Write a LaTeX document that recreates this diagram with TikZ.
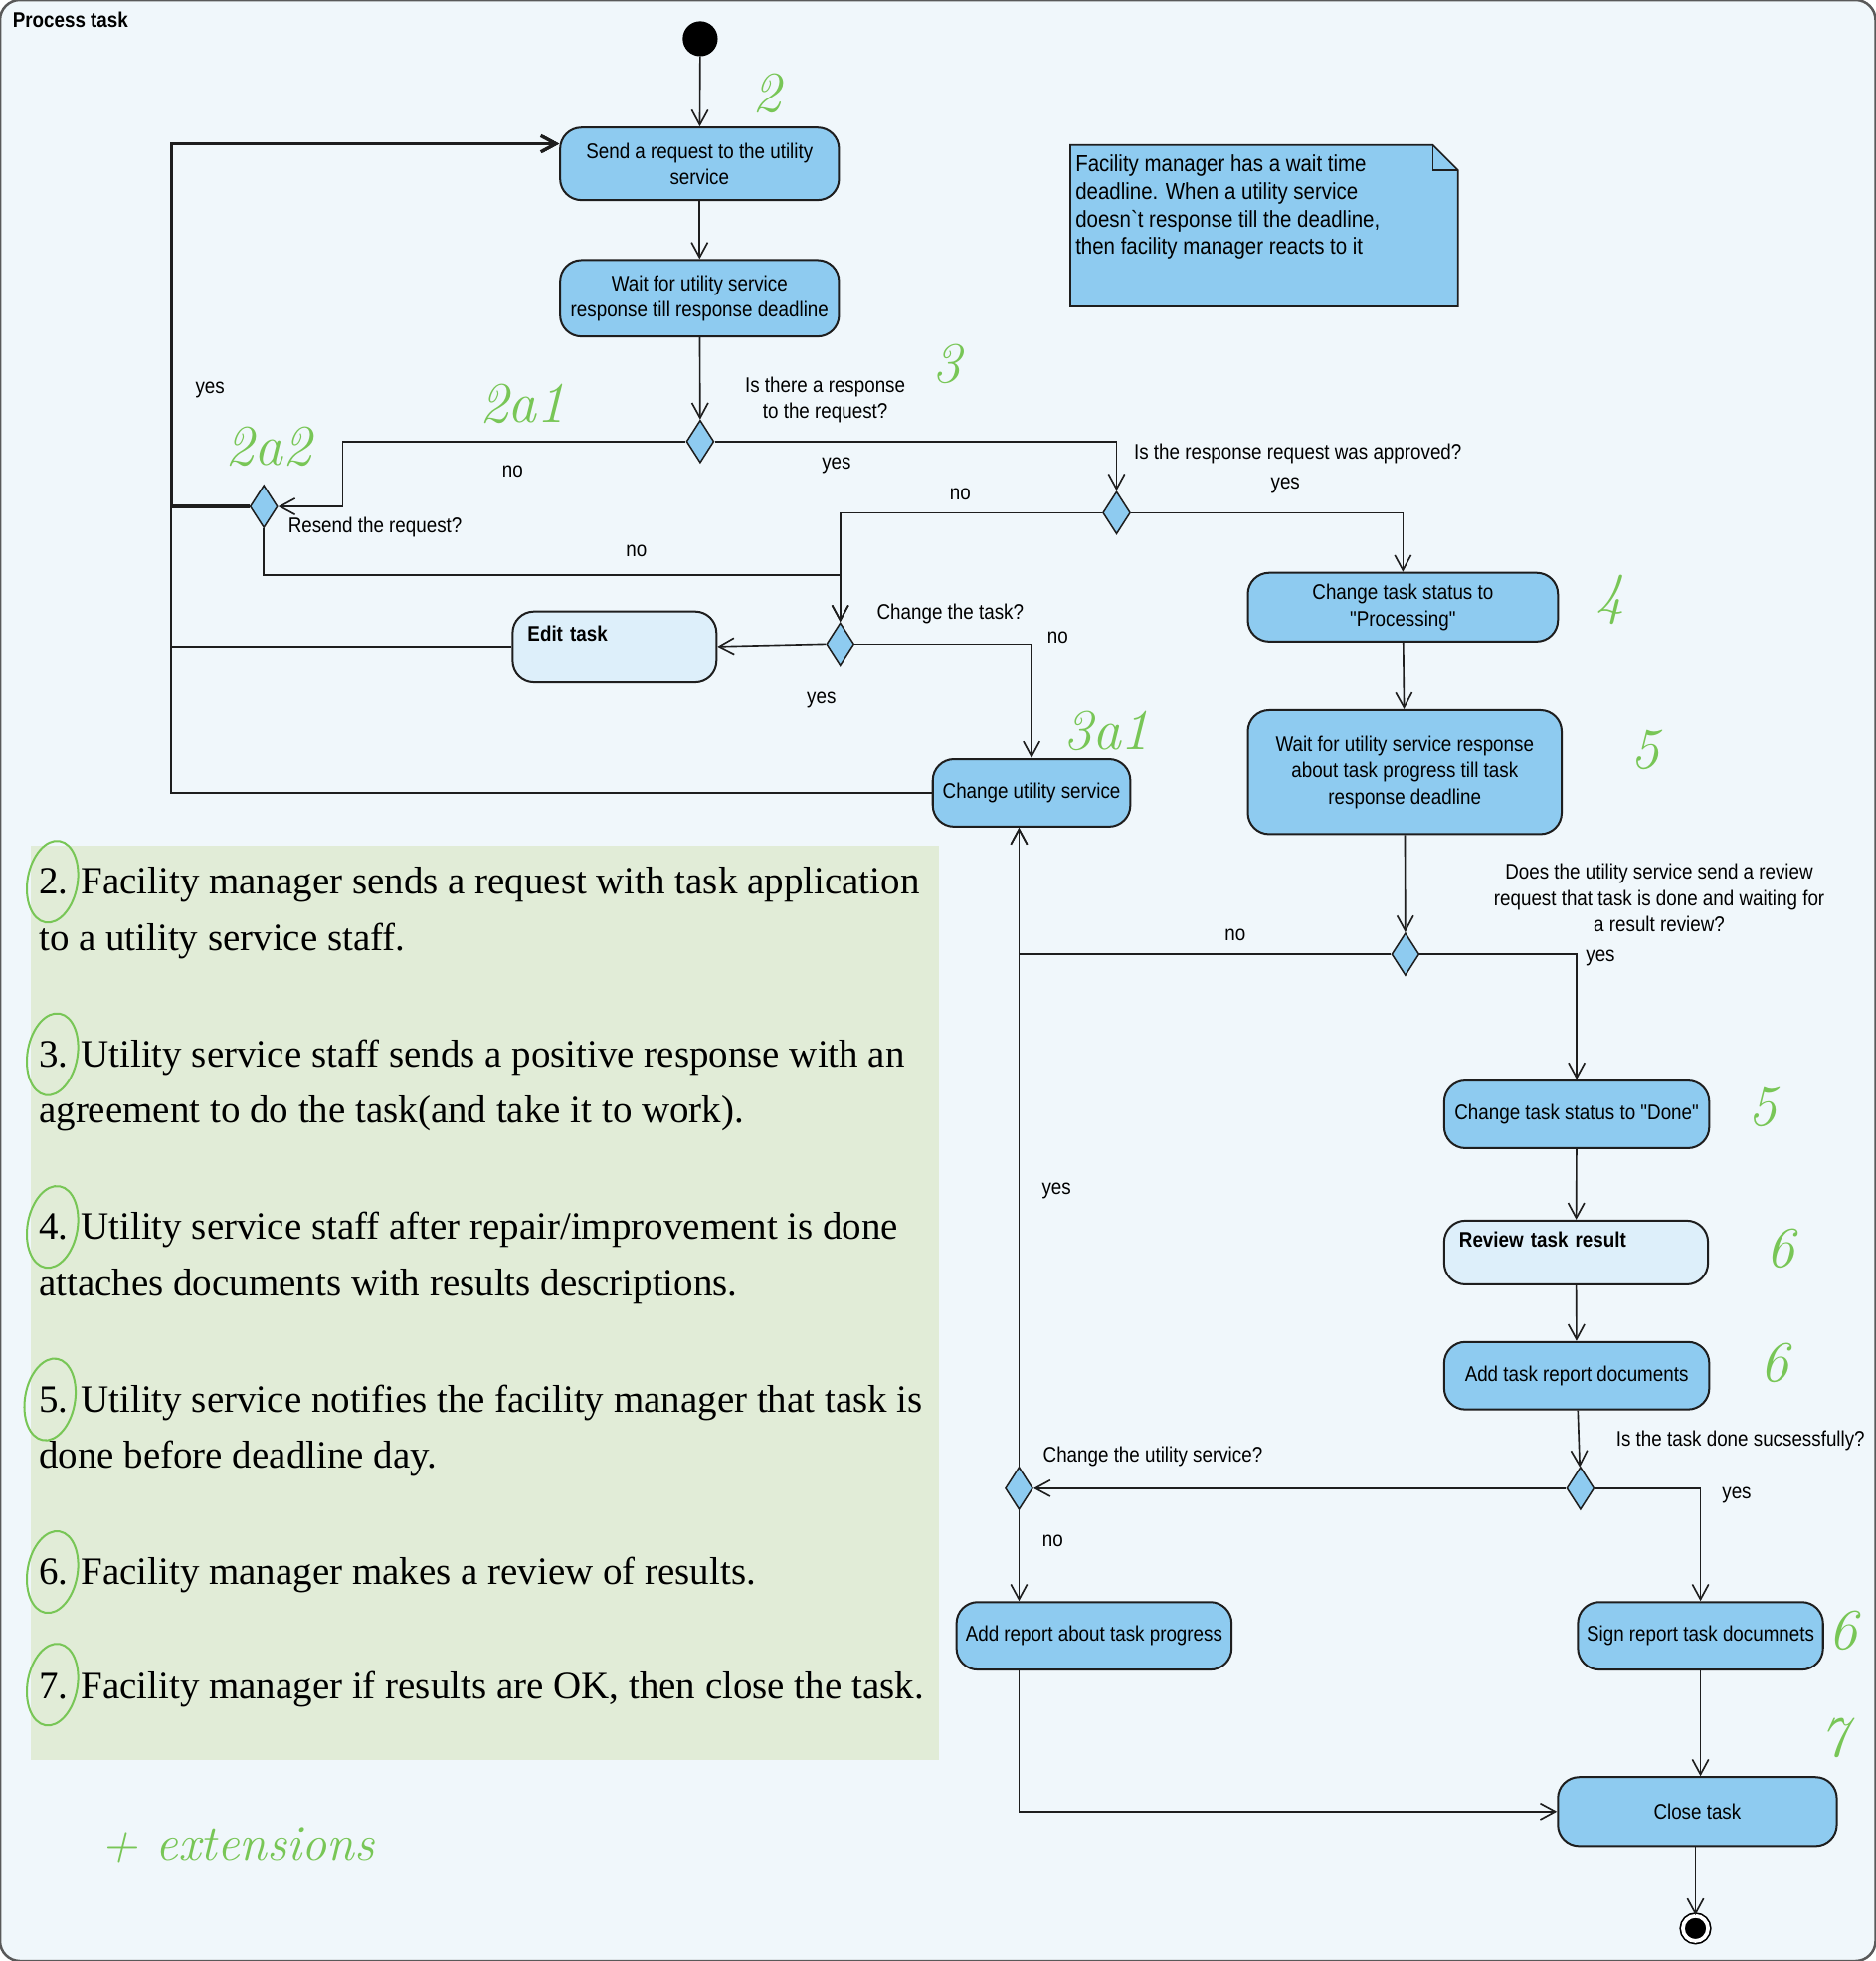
\documentclass[tikz,border=0pt]{standalone}
\usepackage{fontspec}
\usepackage{xcolor}
\usepackage{tikz}
\usetikzlibrary{arrows.meta,calc,positioning,shapes.geometric}
\newfontfamily\umlfont[FakeStretch=0.88,Ligatures=TeXOff]{Liberation Sans}
\newfontfamily\panelfont{Liberation Serif}
\definecolor{framebg}{RGB}{240,247,251}
\definecolor{actfill}{RGB}{142,203,240}
\definecolor{litefill}{RGB}{221,239,250}
\definecolor{panelbg}{RGB}{225,236,215}
\definecolor{handgreen}{RGB}{120,198,86}
\definecolor{edgecol}{RGB}{30,30,30}

\begin{document}
\begin{tikzpicture}[
    x=1pt, y=-1pt,
    act/.style={rectangle, rounded corners=17pt, draw=edgecol, line width=1.6pt, fill=actfill,
        align=center, inner sep=3pt, font=\umlfont\fontsize{17}{21}\selectfont},
    lite/.style={act, fill=litefill, align=left, inner xsep=12pt},
    dec/.style={diamond, draw=edgecol, line width=1.2pt, fill=actfill, minimum width=22pt,
        minimum height=34pt, inner sep=0pt},
    flow/.style={draw=edgecol, line width=1.3pt, -{Straight Barb[length=12pt,width=13pt]}},
    lbl/.style={font=\umlfont\fontsize{17}{21}\selectfont, inner sep=0pt, align=center},
    hand/.style={text=handgreen, font=\itshape\fontsize{46}{46}\selectfont, inner sep=0pt},
    itemtext/.style={font=\panelfont\fontsize{31}{45}\selectfont, anchor=west, align=left, inner sep=0pt},
    numring/.style={draw=handgreen, line width=1.6pt},
    notebox/.style={draw=edgecol, line width=1.4pt, fill=actfill}]

\useasboundingbox (0,0) rectangle (1500,1568);
\path[draw=gray!70!black, line width=2pt, fill=framebg, rounded corners=16pt] (0,0) rectangle (1500,1568);
\node[font=\umlfont\bfseries\fontsize{17}{20}\selectfont, anchor=west, inner sep=0pt] (title) at (10,16) {Process task};

\path[fill=panelbg] (25,676) rectangle (751,1407);

\node[circle, fill=black, minimum size=28pt, inner sep=0pt] (start) at (560,31) {};
\node[act, minimum width=223pt, minimum height=58pt] (sendreq) at (559.5,131) {Send a request to the utility\\service};
\node[act, minimum width=223pt, minimum height=61pt] (waitresp) at (559.5,238.5) {Wait for utility service\\response till response deadline};

\path[notebox] (856,116) -- (1146,116) -- (1166,136) -- (1166,245) -- (856,245) -- cycle;
\path[draw=edgecol, line width=1.4pt] (1146,116) -- (1146,136) -- (1166,136);
\node[lbl, anchor=north west, align=left, inner sep=4pt, font=\umlfont\fontsize{18.5}{22}\selectfont] (note) at (856,120)
    {Facility manager has a wait time\\deadline. When a utility service\\doesn`t response till the deadline,\\then facility manager reacts to it};

\node[dec] (dresp) at (560,353) {};
\node[dec] (dresend) at (211,405) {};
\node[dec] (dappr) at (893,410) {};
\node[dec] (dchtask) at (672,515) {};
\node[dec] (dreview) at (1124,763) {};
\node[dec] (ddone) at (1264,1190) {};
\node[dec] (dchutil) at (815,1190) {};

\node[lite, text width=139pt, minimum height=56pt] (edittask) at (491.5,517) {\textbf{Edit task}\\\mbox{}};
\node[act, minimum width=158pt, minimum height=54pt] (chutil) at (825,634) {Change utility service};
\node[act, minimum width=248pt, minimum height=55pt] (stproc) at (1122,485.5) {Change task status to\\"Processing"};
\node[act, minimum width=251pt, minimum height=99pt] (waitprog) at (1123.5,617.5) {Wait for utility service response\\about task progress till task\\response deadline};
\node[act, minimum width=212pt, minimum height=54pt] (stdone) at (1261,891) {Change task status to "Done"};
\node[lite, text width=187pt, minimum height=51pt] (review) at (1260.5,1001.5) {\textbf{Review task result}\\\mbox{}};
\node[act, minimum width=212pt, minimum height=54pt] (addrep) at (1261,1100) {Add task report documents};
\node[act, minimum width=220pt, minimum height=54pt] (addprog) at (875,1308) {Add report about task progress};
\node[act, minimum width=196pt, minimum height=54pt] (signrep) at (1360,1308) {Sign report task documnets};
\node[act, minimum width=223pt, minimum height=55pt] (closetask) at (1357.5,1448.5) {Close task};
\node[circle, draw=black, fill=black, double=white, double distance=3pt, line width=1.3pt,
    minimum size=20pt, inner sep=0pt] (final) at (1356,1542) {};

\path[flow] (start) -- (sendreq);
\path[flow] (sendreq) -- (waitresp);
\path[flow] (waitresp) -- (dresp);
\path[flow] (dresp.west) -| (274,381) |- (dresend.east);
\path[flow] (dresp.east) -| (dappr.north);
\path[flow] (dappr.east) -| (stproc.north);
\path[flow] (dappr.west) -| (dchtask.north);
\path[flow] (dresend.south) |- (672,460) -- (dchtask.north);
\path[flow, line width=2.6pt] (dresend.west) -| (137,260) |- ([yshift=16pt]sendreq.west);
\path[flow] (edittask.west) -| (137,260) |- ([yshift=16pt]sendreq.west);
\path[flow] (chutil.west) -| (137,260) |- ([yshift=16pt]sendreq.west);
\path[flow] (dchtask.west) -- (edittask.east);
\path[flow] (dchtask.east) -| (chutil.north);
\path[flow] (stproc) -- (waitprog);
\path[flow] (waitprog) -- (dreview);
\path[flow] (dreview.west) -| (dchutil.north |- chutil.south);
\path[flow] (dreview.east) -| (stdone.north);
\path[flow] (stdone) -- (review);
\path[flow] (review) -- (addrep);
\path[flow] (addrep) -- (ddone);
\path[flow] (ddone.west) -- (dchutil.east);
\path[flow] (ddone.east) -| (signrep.north);
\path[flow] (dchutil.north) -- (dchutil.north |- chutil.south);
\path[flow] (dchutil.south) -- (dchutil.south |- addprog.north);
\path[flow] (dchutil.south |- addprog.south) |- (closetask.west);
\path[flow] (signrep.south) -- (signrep.south |- closetask.north);
\path[flow] (closetask.south -| final) -- (final);

\node[lbl] (lyes1) at (168,312) {yes};
\node[lbl] (lno1) at (410,377) {no};
\node[lbl] (qresp) at (660,320) {Is there a response\\to the request?};
\node[lbl] (lyes2) at (669,372) {yes};
\node[lbl] (qappr) at (1038,363) {Is the response request was approved?};
\node[lbl] (lyes3) at (1028,388) {yes};
\node[lbl] (lno2) at (768,395) {no};
\node[lbl] (qresend) at (300,422) {Resend the request?};
\node[lbl] (lno3) at (509,441) {no};
\node[lbl] (qchtask) at (760,491) {Change the task?};
\node[lbl] (lno4) at (846,510) {no};
\node[lbl] (lyes4) at (657,560) {yes};
\node[lbl] (qreview) at (1327,718) {Does the utility service send a review\\request that task is done and waiting for\\a result review?};
\node[lbl] (lno5) at (988,748) {no};
\node[lbl] (lyes5) at (1280,766) {yes};
\node[lbl] (lyes6) at (845,952) {yes};
\node[lbl] (qdone) at (1392,1152) {Is the task done sucsessfully?};
\node[lbl] (qchutil) at (922,1165) {Change the utility service?};
\node[lbl] (lyes7) at (1389,1196) {yes};
\node[lbl] (lno6) at (842,1232) {no};

\node[itemtext] (item2) at (31,730) {2. Facility manager sends a request with task application\\to a utility service staff.};
\node[itemtext] (item3) at (31,868) {3. Utility service staff sends a positive response with an\\agreement to do the task(and take it to work).};
\node[itemtext] (item4) at (31,1006) {4. Utility service staff after repair/improvement is done\\attaches documents with results descriptions.};
\node[itemtext] (item5) at (31,1144) {5. Utility service notifies the facility manager that task is\\done before deadline day.};
\node[itemtext] (item6) at (31,1259) {6. Facility manager makes a review of results.};
\node[itemtext] (item7) at (31,1351) {7. Facility manager if results are OK, then close the task.};

\path[numring] (42,705) ellipse [x radius=20pt, y radius=33pt, rotate=-10];
\path[numring] (42,843) ellipse [x radius=20pt, y radius=33pt, rotate=-10];
\path[numring] (42,981) ellipse [x radius=20pt, y radius=33pt, rotate=-10];
\path[numring] (40,1119) ellipse [x radius=20pt, y radius=33pt, rotate=-10];
\path[numring] (42,1257) ellipse [x radius=20pt, y radius=33pt, rotate=-10];
\path[numring] (42,1347) ellipse [x radius=20pt, y radius=33pt, rotate=-10];

\node[hand] (h2) at (613,75) {2};
\node[hand] (h3) at (757,291) {3};
\node[hand] (h2a1) at (418,323) {2a1};
\node[hand] (h2a2) at (215,357) {2a2};
\node[hand] (h4) at (1288,480) {4};
\node[hand] (h5a) at (1316,600) {5};
\node[hand] (h3a1) at (885,585) {3a1};
\node[hand] (h5b) at (1410,885) {5};
\node[hand] (h6a) at (1424,998) {6};
\node[hand] (h6b) at (1419,1090) {6};
\node[hand] (h6c) at (1474,1304) {6};
\node[hand] (h7) at (1467,1390) {7};
\node[hand, font=\itshape\fontsize{40}{40}\selectfont] (hext) at (190,1475) {+ extensions};

\end{tikzpicture}
\end{document}
